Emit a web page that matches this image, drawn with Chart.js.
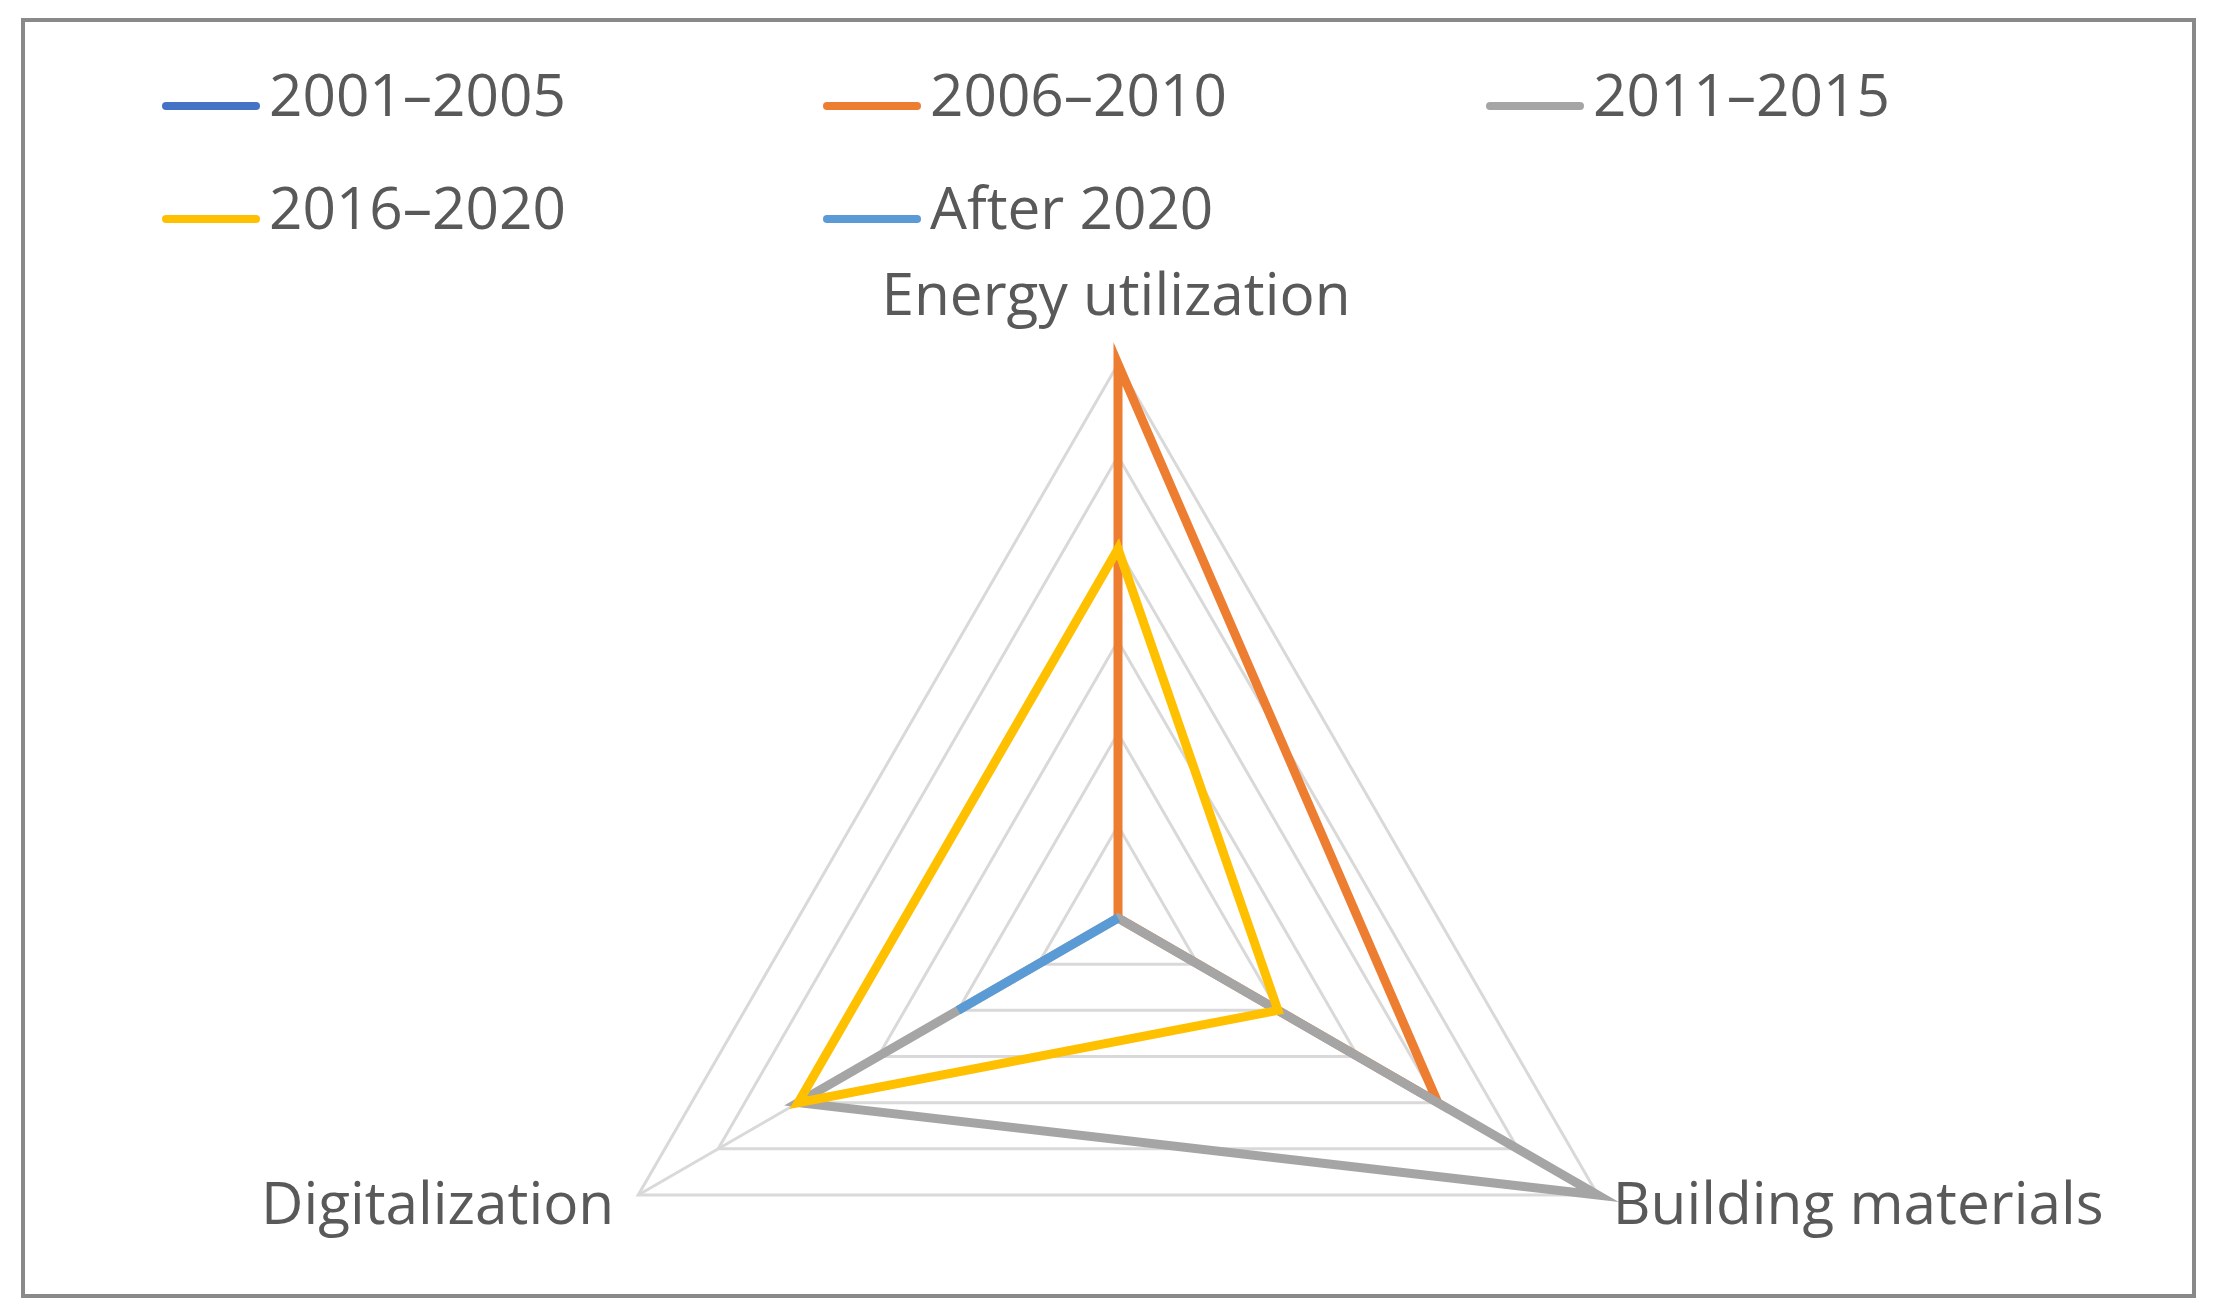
<!DOCTYPE html>
<html>
<head>
<meta charset="utf-8">
<script src="https://cdn.jsdelivr.net/npm/chart.js@4/dist/chart.umd.min.js"></script>
<style>
  html, body { margin: 0; padding: 0; background: #fff; overflow: hidden; width: 2213px; height: 1316px; }
  #wrap { position: absolute; left: 0; top: 0; width: 2213px; height: 1500px; }
  #frame { position: absolute; left: 21px; top: 18px; width: 2167px; height: 1272px; border: 4px solid #898989; pointer-events: none; }
  .lg { position: absolute; font-family: "Open Sans", sans-serif; font-size: 58.5px; line-height: 58px; color: #595959; white-space: nowrap; }
  .lg .sw { position: absolute; left: 0; top: 38px; width: 98px; height: 8px; border-radius: 4px; }
  .lg .tx { position: absolute; left: 107px; top: 0; }
</style>
</head>
<body>
<div id="wrap"><canvas id="c" width="2213" height="1500"></canvas></div>
<div id="frame"></div>
<div id="legend"></div>
<script>
// ---- data ----
const categories = ["Energy utilization", "Building materials", "Digitalization"];
const seriesNames = ["2001\u20132005", "2006\u20132010", "2011\u20132015", "2016\u20132020", "After 2020"];
const s2001_2005 = [0, 0, 0];
const s2006_2010 = [6, 4, 0];
const s2011_2015 = [0, 6, 4];
const s2016_2020 = [4, 2, 4];
const sAfter2020 = [0, 0, 2];
const scaleMax = 6;
const scaleStep = 1;

// ---- styles ----
const colors = ["#4472C4", "#ED7D31", "#A5A5A5", "#FFC000", "#5B9BD5"];
const seriesValues = [s2001_2005, s2006_2010, s2011_2015, s2016_2020, sAfter2020];

const datasets = seriesNames.map((name, i) => ({
  label: name,
  data: seriesValues[i],
  borderColor: colors[i],
  backgroundColor: colors[i],
  borderWidth: 9,
  fill: false,
  pointRadius: 0,
  pointHoverRadius: 0,
  tension: 0,
  borderJoinStyle: 'miter',
  order: -i
}));

// HTML legend in a grid
const legendCols = [162, 823, 1486];
const legendRows = [64, 177];
const legendEl = document.getElementById('legend');
seriesNames.forEach((name, i) => {
  const d = document.createElement('div');
  d.className = 'lg';
  d.style.left = legendCols[i % 3] + 'px';
  d.style.top = legendRows[Math.floor(i / 3)] + 'px';
  const sw = document.createElement('div');
  sw.className = 'sw';
  sw.style.background = colors[i];
  const tx = document.createElement('span');
  tx.className = 'tx';
  tx.textContent = name;
  d.appendChild(sw); d.appendChild(tx);
  legendEl.appendChild(d);
});

// point labels drawn at the scale's own vertex positions
const labelPlugin = {
  id: 'radarLabels',
  afterDraw(chart) {
    const sc = chart.scales.r;
    const ctx = chart.ctx;
    ctx.save();
    ctx.font = '58.5px "Open Sans", sans-serif';
    ctx.fillStyle = '#595959';
    ctx.textBaseline = 'alphabetic';
    const offs = [
      { align: 'center', dx: -2, dy: -49 },
      { align: 'left', dx: 15, dy: 29 },
      { align: 'right', dx: -24, dy: 29 }
    ];
    categories.forEach((lab, i) => {
      const p = sc.getPointPosition(i, sc.drawingArea);
      ctx.textAlign = offs[i].align;
      ctx.fillText(lab, p.x + offs[i].dx, p.y + offs[i].dy);
    });
    ctx.restore();
  }
};

new Chart(document.getElementById('c'), {
  type: 'radar',
  data: { labels: categories, datasets },
  options: {
    responsive: false,
    animation: false,
    events: [],
    layout: { padding: { left: 563, right: 540, top: 364, bottom: 28 } },
    plugins: { legend: { display: false }, tooltip: { enabled: false } },
    scales: {
      r: {
        min: 0,
        max: scaleMax,
        ticks: { display: false, stepSize: scaleStep },
        pointLabels: { display: false },
        grid: { color: '#D9D9D9', lineWidth: 3, circular: false },
        angleLines: { display: true, color: '#D9D9D9', lineWidth: 3 }
      }
    }
  },
  plugins: [labelPlugin]
});
</script>
</body>
</html>
